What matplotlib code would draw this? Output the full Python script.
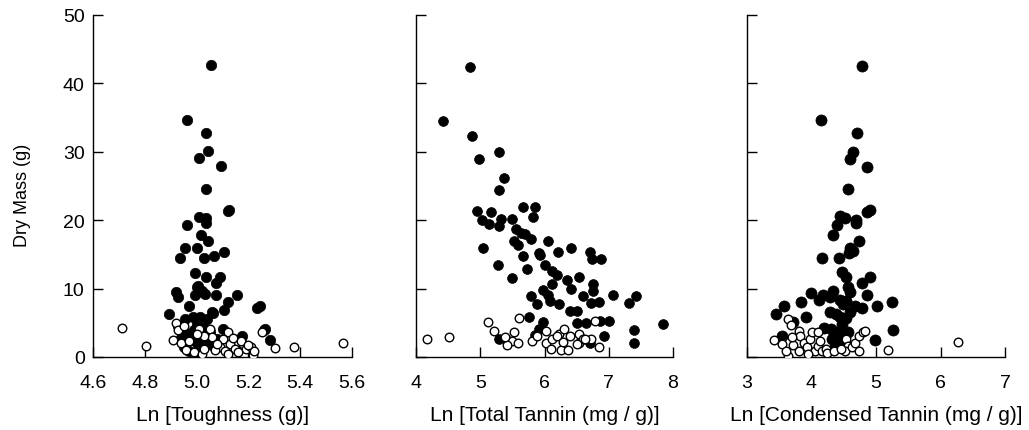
import matplotlib
matplotlib.use('Agg')
import numpy as np
import matplotlib.pyplot as plt

plt.rcParams['font.family'] = ['Liberation Sans', 'DejaVu Sans']
plt.rcParams['font.size'] = 14

# Panel 1: Ln toughness
tough_fill_x = [5.054, 4.963, 5.035, 5.043, 5.010, 5.093, 5.035, 5.123, 5.126, 5.009,
                5.036, 5.035, 4.962, 5.017, 5.043, 4.954, 5.002, 4.935, 5.027, 5.067,
                5.107, 4.995, 5.035, 5.092, 5.075, 5.005, 4.920, 4.929, 4.994, 5.032,
                5.075, 5.155, 5.123, 4.970, 5.233, 5.245, 5.064, 5.107, 4.894, 5.020,
                5.000, 5.060, 4.955, 4.986, 5.013, 5.040, 5.100, 5.175, 5.264, 5.283,
                5.261, 4.930, 4.960, 4.980, 4.950, 4.970, 5.000, 5.020, 5.040, 5.060,
                5.010, 4.990, 5.030, 5.050, 4.940, 5.080, 5.000]
tough_fill_y = [42.7, 34.7, 32.8, 30.1, 29.1, 27.9, 24.6, 21.3, 21.5, 20.5,
                20.3, 19.6, 19.3, 17.8, 16.9, 16.0, 16.0, 14.5, 14.5, 14.7,
                15.4, 12.3, 11.7, 11.7, 10.8, 10.4, 9.5, 8.8, 9.0, 9.2,
                9.0, 9.0, 8.0, 7.5, 7.1, 7.4, 6.5, 6.8, 6.3, 9.7,
                10.2, 6.6, 5.6, 5.8, 5.8, 5.6, 4.1, 3.1, 4.1, 2.5,
                4.0, 4.5, 3.5, 2.5, 1.5, 0.9, 4.8, 3.0, 2.2, 1.8,
                1.5, 4.0, 4.3, 3.6, 2.8, 2.6, 2.0]
tough_open_x = [4.713, 4.806, 5.376, 5.566, 5.303, 5.251, 5.219, 5.219, 5.050, 5.010,
                5.060, 5.120, 5.100, 5.130, 5.090, 5.150, 5.180, 5.190, 5.210, 5.220,
                5.160, 4.920, 4.930, 4.910, 4.940, 4.960, 4.990, 5.020, 5.030, 5.070,
                5.110, 4.950, 5.030, 5.000, 5.140, 5.170, 5.080, 4.970, 5.200, 5.120]
tough_open_y = [4.3, 1.56, 1.5, 2.1, 1.27, 3.6, 0.9, 0.3, 4.1, 4.1,
                2.9, 3.6, 2.6, 1.9, 1.5, 1.2, 1.9, 1.2, 1.5, 0.9,
                0.7, 5.0, 3.9, 2.5, 2.0, 1.0, 0.8, 0.5, 1.2, 1.0,
                0.9, 4.5, 3.0, 3.3, 2.8, 2.4, 1.9, 2.3, 1.8, 0.5]

# Panel 2: Ln total tannin
total_fill_x = [4.84, 4.415, 4.876, 4.975, 5.297, 5.364, 5.297, 4.944, 5.167, 5.032,
                5.136, 5.318, 5.292, 5.494, 5.665, 5.852, 5.826, 5.56, 5.64, 5.70,
                5.79, 5.52, 5.59, 5.043, 6.05, 6.41, 5.665, 5.92, 5.93, 6.215,
                6.71, 6.74, 6.874, 5.27, 5.72, 6.014, 6.11, 6.20, 5.50, 6.345,
                6.54, 6.11, 5.98, 6.76, 6.41, 6.05, 6.09, 6.76, 5.79, 6.60,
                7.07, 7.42, 7.32, 5.88, 6.22, 6.72, 6.85, 6.40, 6.51, 5.76,
                5.98, 5.92, 6.50, 6.65, 6.86, 7.00, 7.85, 7.40, 7.40, 5.29,
                6.93, 6.71, 5.85]
total_fill_y = [42.4, 34.5, 32.3, 28.9, 29.9, 26.2, 24.4, 21.4, 21.2, 20.1,
                19.4, 20.2, 19.2, 20.2, 22.0, 22.0, 20.4, 18.7, 18.2, 18.0,
                17.3, 16.9, 16.4, 15.9, 16.9, 15.9, 14.7, 15.2, 14.9, 15.3,
                15.3, 14.3, 14.3, 13.5, 12.9, 13.5, 12.6, 12.0, 11.6, 11.3,
                11.7, 10.7, 9.8, 10.7, 10.0, 9.1, 8.2, 9.6, 8.9, 8.9,
                9.1, 8.9, 7.9, 7.7, 7.7, 7.9, 8.1, 6.7, 6.7, 5.8,
                5.1, 4.1, 4.9, 4.9, 5.2, 5.2, 4.8, 3.9, 2.1, 2.7,
                3.0, 2.1, 3.2]
total_open_x = [4.166, 4.52, 5.115, 5.60, 6.78, 5.22, 5.52, 5.40, 5.49, 5.41,
                5.58, 5.80, 5.88, 6.03, 6.02, 6.11, 6.10, 6.22, 6.31, 6.25,
                6.36, 6.39, 6.53, 6.53, 6.60, 6.72, 6.85, 6.19, 6.29, 6.50,
                6.63, 5.39]
total_open_y = [2.6, 2.9, 5.1, 5.7, 5.3, 3.8, 3.6, 2.6, 2.3, 1.7,
                2.0, 2.3, 3.1, 3.75, 2.1, 2.6, 1.1, 3.4, 4.1, 1.0,
                1.0, 3.1, 3.4, 2.0, 2.7, 2.7, 1.4, 3.1, 2.2, 1.9,
                2.6, 2.9]

# Panel 3: Ln condensed tannin
cond_fill_x = [4.778, 4.147, 4.70, 4.64, 4.60, 4.86, 4.56, 4.91, 4.86, 4.44,
               4.52, 4.40, 4.69, 4.69, 4.34, 4.73, 4.60, 4.65, 4.58, 4.17,
               4.43, 4.47, 4.54, 4.91, 4.79, 4.56, 4.60, 3.99, 4.12, 4.18,
               4.34, 4.28, 4.44, 4.49, 4.54, 3.84, 3.58, 3.45, 3.91, 4.86,
               5.02, 5.25, 5.27, 3.71, 3.55, 4.99, 4.79, 4.67, 4.60, 4.28,
               4.38, 4.44, 4.54, 4.20, 4.30, 4.32, 4.41, 4.45, 4.52, 4.56,
               4.48, 4.39, 4.37, 4.50]
cond_fill_y = [42.5, 34.6, 32.7, 30.0, 29.0, 27.8, 24.5, 21.5, 21.2, 20.6,
               20.3, 19.3, 20.0, 19.6, 17.9, 16.9, 16.0, 15.5, 15.2, 14.5,
               14.5, 12.4, 11.7, 11.7, 10.8, 10.3, 9.5, 9.3, 8.3, 9.1,
               9.6, 8.7, 8.4, 7.7, 8.2, 8.1, 7.5, 6.3, 5.9, 9.0,
               7.5, 8.0, 4.0, 5.1, 3.1, 2.5, 7.1, 7.5, 6.6, 6.6,
               6.3, 5.8, 5.7, 4.3, 4.1, 2.6, 2.1, 3.2, 1.9, 3.6,
               4.8, 3.6, 1.4, 2.4]
cond_open_x = [6.27, 5.18, 3.42, 3.54, 3.64, 3.68, 3.80, 3.82, 3.64, 3.61,
               3.72, 3.80, 3.88, 3.93, 3.98, 4.00, 4.05, 4.10, 4.13, 4.16,
               4.22, 4.24, 4.54, 4.57, 4.52, 4.63, 4.68, 4.73, 4.74, 4.80,
               4.83, 4.10, 3.70, 3.95, 4.35, 4.45]
cond_open_y = [2.2, 1.0, 2.5, 1.9, 5.6, 4.7, 3.85, 3.1, 0.2, 0.9,
               1.7, 0.9, 2.1, 1.4, 2.6, 3.6, 0.9, 1.6, 2.3, 0.9,
               1.1, 0.6, 2.6, 1.6, 0.9, 1.4, 2.1, 0.9, 3.0, 3.7,
               3.8, 3.6, 2.9, 0.5, 0.9, 1.2]

fig = plt.figure(figsize=(10.29, 4.31), dpi=100)
bottom = 73 / 431.
height = 342 / 431.
axes_left = [93 / 1029., 416 / 1029., 747 / 1029.]
axes_width = [259 / 1029., 257 / 1029., 258 / 1029.]

panels = [
    (tough_fill_x, tough_fill_y, tough_open_x, tough_open_y, (4.6, 5.6),
     [4.6, 4.8, 5.0, 5.2, 5.4, 5.6], ['4.6', '4.8', '5.0', '5.2', '5.4', '5.6'],
     'Ln [Toughness (g)]', 56),
    (total_fill_x, total_fill_y, total_open_x, total_open_y, (4, 8),
     [4, 5, 6, 7, 8], ['4', '5', '6', '7', '8'],
     'Ln [Total Tannin (mg / g)]', 50),
    (cond_fill_x, cond_fill_y, cond_open_x, cond_open_y, (3, 7),
     [3, 4, 5, 6, 7], ['3', '4', '5', '6', '7'],
     'Ln [Condensed Tannin (mg / g)]', 64),
]

for i, (fx, fy, ox, oy, xlim, xt, xtl, xlab, fs) in enumerate(panels):
    ax = fig.add_axes([axes_left[i], bottom, axes_width[i], height])
    ax.scatter(fx, fy, s=fs, c='black', edgecolors='black', linewidths=0.5, zorder=3)
    ax.scatter(ox, oy, s=38, facecolors='white', edgecolors='black', linewidths=1.0, zorder=4)
    ax.set_xlim(xlim)
    ax.set_ylim(0, 50)
    ax.set_xticks(xt)
    ax.set_xticklabels(xtl)
    ax.set_yticks([0, 10, 20, 30, 40, 50])
    ax.spines['top'].set_visible(False)
    ax.spines['right'].set_visible(False)
    ax.spines['left'].set_linewidth(1.0)
    ax.spines['bottom'].set_linewidth(1.0)
    ax.tick_params(direction='in', length=7, width=1.0, labelsize=14)
    ax.tick_params(axis='x', pad=12)
    ax.tick_params(axis='y', pad=6)
    ax.set_xlabel(xlab, fontsize=15, labelpad=10)
    if i == 0:
        ax.set_ylabel('Dry Mass (g)', fontsize=13)
        ax.yaxis.set_label_coords(-0.24, 0.475)
    else:
        ax.set_yticklabels([])

fig.savefig('out.png', dpi=100)
